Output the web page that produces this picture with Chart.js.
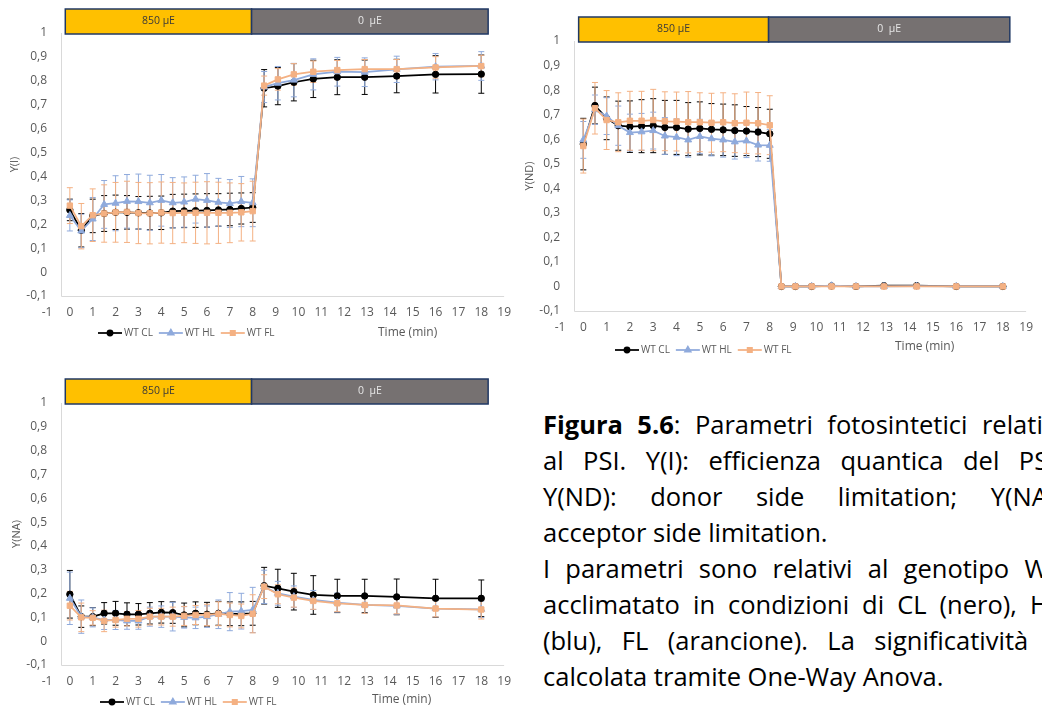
<!DOCTYPE html>
<html lang="it">
<head>
<meta charset="utf-8">
<title>Figura 5.6 - Parametri PSI</title>
<script src="https://cdn.jsdelivr.net/npm/chart.js@4.4.1/dist/chart.umd.min.js"></script>
<style>
  html, body { margin: 0; padding: 0; background: #fff; width: 1042px; height: 711px; overflow: hidden; }
  .panel { position: absolute; }
  #caption { position: absolute; left: 543px; top: 406px; width: 519px; font-family: "Open Sans", sans-serif; font-size: 25.5px; line-height: 36px; color: #000; }
  #caption div { white-space: nowrap; text-align: justify; text-align-last: justify; }
  #caption div.last { text-align-last: left; }
</style>
</head>
<body>
<div class="panel" style="left:0;top:0"><canvas id="chartYI" width="520" height="345"></canvas></div>
<div class="panel" style="left:514px;top:0"><canvas id="chartYND" width="528" height="365"></canvas></div>
<div class="panel" style="left:0;top:360px"><canvas id="chartYNA" width="520" height="351"></canvas></div>

<div id="caption">
  <div><b>Figura 5.6</b>: Parametri fotosintetici relativi</div>
  <div>al PSI. Y(I): efficienza quantica del PSI;</div>
  <div>Y(ND): donor side limitation; Y(NA):</div>
  <div class="last">acceptor side limitation.</div>
  <div>I parametri sono relativi al genotipo WT</div>
  <div>acclimatato in condizioni di CL (nero), HL</div>
  <div>(blu), FL (arancione). La significatività è</div>
  <div class="last">calcolata tramite One-Way Anova.</div>
</div>

<script>
// tempi di misura (min)
const timeMin = [0, 0.5, 1, 1.5, 2, 2.5, 3, 3.5, 4, 4.5, 5, 5.5, 6, 6.5, 7, 7.5, 8, 8.5, 9.1, 9.8, 10.65, 11.7, 12.9, 14.3, 16, 18];
const seriesNames = ['WT CL', 'WT HL', 'WT FL'];
const lightLabels = ['850 µE', '0  µE'];
const lightBounds = [-0.2, 7.95, 18.3];
const xTitle = 'Time (min)';

// Y(I)
const yI_CL = [0.26, 0.175, 0.235, 0.245, 0.25, 0.25, 0.248, 0.247, 0.248, 0.255, 0.256, 0.257, 0.258, 0.26, 0.262, 0.266, 0.27, 0.769, 0.778, 0.794, 0.808, 0.815, 0.815, 0.82, 0.827, 0.828];
const yI_HL = [0.237, 0.172, 0.222, 0.283, 0.288, 0.296, 0.295, 0.29, 0.3, 0.29, 0.293, 0.305, 0.3, 0.292, 0.287, 0.295, 0.29, 0.774, 0.79, 0.803, 0.827, 0.838, 0.836, 0.848, 0.859, 0.862];
const yI_FL = [0.278, 0.192, 0.238, 0.245, 0.25, 0.252, 0.247, 0.246, 0.249, 0.247, 0.248, 0.248, 0.248, 0.248, 0.248, 0.25, 0.255, 0.78, 0.806, 0.827, 0.838, 0.845, 0.849, 0.849, 0.856, 0.862];
const yI_CL_sd = [0.045, 0.07, 0.07, 0.075, 0.072, 0.07, 0.068, 0.07, 0.07, 0.07, 0.07, 0.07, 0.07, 0.068, 0.068, 0.065, 0.062, 0.078, 0.078, 0.078, 0.078, 0.073, 0.072, 0.07, 0.078, 0.08];
const yI_HL_sd = [0.065, 0.07, 0.09, 0.1, 0.115, 0.112, 0.115, 0.115, 0.108, 0.105, 0.105, 0.1, 0.112, 0.1, 0.1, 0.105, 0.1, 0.065, 0.07, 0.07, 0.065, 0.06, 0.06, 0.055, 0.055, 0.06];
const yI_FL_sd = [0.075, 0.095, 0.11, 0.12, 0.125, 0.128, 0.128, 0.128, 0.128, 0.128, 0.125, 0.128, 0.13, 0.128, 0.125, 0.12, 0.125, 0.04, 0.045, 0.045, 0.045, 0.04, 0.04, 0.04, 0.045, 0.045];

// Y(ND)
const yND_CL = [0.58, 0.737, 0.685, 0.655, 0.651, 0.653, 0.655, 0.648, 0.648, 0.641, 0.644, 0.64, 0.638, 0.635, 0.633, 0.629, 0.622, 0, 0, 0, 0.002, 0, 0.003, 0.003, 0, 0];
const yND_HL = [0.597, 0.72, 0.694, 0.655, 0.627, 0.63, 0.635, 0.613, 0.608, 0.597, 0.611, 0.602, 0.597, 0.589, 0.593, 0.576, 0.575, 0, 0, 0, 0.003, 0, 0, 0.001, 0, 0];
const yND_FL = [0.572, 0.726, 0.678, 0.669, 0.675, 0.675, 0.678, 0.673, 0.672, 0.669, 0.669, 0.667, 0.669, 0.665, 0.667, 0.665, 0.657, 0, 0, 0, 0, 0, 0, 0, 0, 0];
const yND_CL_sd = [0.105, 0.075, 0.087, 0.1, 0.105, 0.108, 0.11, 0.11, 0.11, 0.108, 0.108, 0.105, 0.105, 0.105, 0.1, 0.1, 0.1, 0.003, 0.002, 0.002, 0.003, 0.002, 0.003, 0.003, 0.002, 0.002];
const yND_HL_sd = [0.075, 0.06, 0.075, 0.08, 0.075, 0.075, 0.075, 0.075, 0.075, 0.07, 0.07, 0.07, 0.07, 0.07, 0.068, 0.065, 0.065, 0.003, 0.002, 0.002, 0.003, 0.002, 0.002, 0.002, 0.002, 0.002];
const yND_FL_sd = [0.11, 0.105, 0.12, 0.12, 0.12, 0.12, 0.125, 0.12, 0.12, 0.125, 0.12, 0.12, 0.12, 0.12, 0.125, 0.125, 0.12, 0.003, 0.002, 0.002, 0.002, 0.002, 0.002, 0.002, 0.002, 0.002];

// Y(NA)
const yNA_CL = [0.197, 0.103, 0.103, 0.117, 0.117, 0.113, 0.113, 0.117, 0.121, 0.12, 0.11, 0.117, 0.113, 0.117, 0.115, 0.115, 0.117, 0.233, 0.222, 0.208, 0.194, 0.19, 0.19, 0.186, 0.18, 0.18];
const yNA_HL = [0.18, 0.103, 0.1, 0.089, 0.089, 0.085, 0.085, 0.103, 0.103, 0.103, 0.1, 0.098, 0.103, 0.113, 0.124, 0.126, 0.131, 0.228, 0.201, 0.187, 0.173, 0.162, 0.152, 0.148, 0.137, 0.134];
const yNA_FL = [0.149, 0.1, 0.098, 0.085, 0.089, 0.094, 0.094, 0.103, 0.103, 0.103, 0.106, 0.11, 0.11, 0.115, 0.11, 0.106, 0.115, 0.229, 0.197, 0.183, 0.169, 0.159, 0.152, 0.15, 0.137, 0.133];
const yNA_CL_sd = [0.1, 0.045, 0.038, 0.045, 0.05, 0.048, 0.045, 0.045, 0.045, 0.045, 0.05, 0.048, 0.05, 0.05, 0.05, 0.05, 0.05, 0.077, 0.08, 0.077, 0.081, 0.07, 0.07, 0.075, 0.08, 0.077];
const yNA_HL_sd = [0.11, 0.07, 0.04, 0.04, 0.04, 0.035, 0.035, 0.04, 0.045, 0.06, 0.045, 0.045, 0.045, 0.06, 0.08, 0.075, 0.095, 0.07, 0.05, 0.045, 0.04, 0.04, 0.035, 0.035, 0.035, 0.035];
const yNA_FL_sd = [0.06, 0.06, 0.03, 0.045, 0.03, 0.03, 0.035, 0.035, 0.035, 0.04, 0.04, 0.04, 0.045, 0.05, 0.05, 0.05, 0.08, 0.05, 0.04, 0.04, 0.035, 0.035, 0.035, 0.035, 0.035, 0.04];

const COLORS = ['#000000', '#8FAADC', '#F4B183'];
const MARKERS = ['circle', 'triangle', 'rect'];
const RADII = [3.2, 4, 3.8];
const PHASE_FILL = ['#FFC000', '#767171'];
const PHASE_TEXT = ['#3A3A3A', '#E6E6E6'];
const TICK_COLOR = '#595959';

// formato con virgola decimale
function fmtComma(v) {
  const r = Math.round(v * 10) / 10;
  return Number.isInteger(r) ? String(r) : r.toFixed(1).replace('.', ',');
}

// assi, riquadri luce, barre di errore, legenda
const decor = {
  id: 'decor',
  beforeDatasetsDraw(chart) {
    const { ctx, chartArea: a, scales: { x, y } } = chart;
    ctx.save();
    ctx.strokeStyle = '#D9D9D9';
    ctx.lineWidth = 1;
    const ax = Math.round(x.getPixelForValue(-0.38)) + 0.5;
    const ay = Math.round(a.bottom) + 0.5;
    ctx.beginPath();
    ctx.moveTo(ax, a.top);
    ctx.lineTo(ax, ay);
    ctx.lineTo(a.right, ay);
    ctx.stroke();

    chart.data.datasets.forEach(ds => {
      ctx.strokeStyle = ds.borderColor;
      ctx.lineWidth = 1;
      ds.data.forEach((p, j) => {
        const e = ds.errors[j];
        const px = x.getPixelForValue(p.x);
        const y1 = y.getPixelForValue(p.y + e);
        const y2 = y.getPixelForValue(p.y - e);
        ctx.beginPath();
        ctx.moveTo(px, y1); ctx.lineTo(px, y2);
        ctx.moveTo(px - 3, y1); ctx.lineTo(px + 3, y1);
        ctx.moveTo(px - 3, y2); ctx.lineTo(px + 3, y2);
        ctx.stroke();
      });
    });
    ctx.restore();
  },
  afterDraw(chart, args, opts) {
    const { ctx, chartArea: a, scales: { x } } = chart;
    ctx.save();
    // riquadri 850 / 0 µE
    const top = a.top - 24, h = 25;
    lightLabels.forEach((lab, i) => {
      const x0 = x.getPixelForValue(lightBounds[i]);
      const x1 = x.getPixelForValue(lightBounds[i + 1]);
      ctx.fillStyle = PHASE_FILL[i];
      ctx.fillRect(x0, top, x1 - x0, h);
      ctx.strokeStyle = '#203864';
      ctx.lineWidth = 1.5;
      ctx.strokeRect(x0, top, x1 - x0, h);
      ctx.fillStyle = PHASE_TEXT[i];
      ctx.font = '10.5px "Open Sans"';
      ctx.textAlign = 'center';
      ctx.textBaseline = 'middle';
      ctx.fillText(lab, (x0 + x1) / 2, top + h / 2);
    });

    // legenda
    let lx = a.left + opts.legendDx;
    const ly = a.bottom + opts.legendDy;
    ctx.font = '10px "Open Sans"';
    ctx.textAlign = 'left';
    ctx.textBaseline = 'middle';
    chart.data.datasets.forEach(ds => {
      ctx.strokeStyle = ds.borderColor;
      ctx.fillStyle = ds.borderColor;
      ctx.lineWidth = ds.borderWidth;
      ctx.beginPath();
      ctx.moveTo(lx, ly);
      ctx.lineTo(lx + 24, ly);
      ctx.stroke();
      Chart.helpers.drawPoint(ctx, { pointStyle: ds.pointStyle, radius: ds.pointRadius * 0.8, borderWidth: 1 }, lx + 12, ly);
      ctx.fillStyle = TICK_COLOR;
      ctx.fillText(ds.label, lx + 26, ly);
      lx += 26 + ctx.measureText(ds.label).width + 6;
    });

    // titolo asse x
    ctx.font = '12px "Open Sans"';
    ctx.fillStyle = TICK_COLOR;
    ctx.fillText(xTitle, a.left + opts.titleDx, a.bottom + opts.titleDy);
    ctx.restore();
  }
};

function makeChart(id, yTitle, series, sds, lay) {
  const datasets = series.map((vals, i) => ({
    label: seriesNames[i],
    data: timeMin.map((t, j) => ({ x: t, y: vals[j] })),
    errors: sds[i],
    showLine: true,
    borderColor: COLORS[i],
    backgroundColor: COLORS[i],
    borderWidth: 1.75,
    pointStyle: MARKERS[i],
    pointRadius: RADII[i],
    pointBorderWidth: 1,
    order: 3 - i
  }));

  return new Chart(document.getElementById(id), {
    type: 'scatter',
    data: { datasets },
    options: {
      responsive: false,
      animation: false,
      layout: { padding: { left: 0, right: lay.padRight, top: lay.padTop, bottom: 0 } },
      plugins: {
        legend: { display: false },
        tooltip: { enabled: false },
        decor: { legendDx: lay.legendDx, legendDy: lay.legendDy, titleDx: lay.titleDx, titleDy: lay.titleDy }
      },
      scales: {
        x: {
          type: 'linear', min: -1, max: 19,
          grid: { display: false, drawTicks: false }, border: { display: false },
          ticks: { stepSize: 1, padding: 9, autoSkip: false, maxRotation: 0, color: TICK_COLOR,
                   font: { family: 'Open Sans', size: 12 }, callback: v => String(v) },
          afterFit: s => { s.height = lay.xAxisH; }
        },
        y: {
          min: -0.1, max: 1,
          grid: { display: false, drawTicks: false }, border: { display: false },
          ticks: { stepSize: 0.1, padding: 0, color: TICK_COLOR, font: { family: 'Open Sans', size: 12 }, callback: fmtComma },
          title: { display: true, text: yTitle, color: TICK_COLOR, font: { family: 'Open Sans', size: 11 },
                   padding: { top: lay.titlePad, bottom: 0 } },
          afterFit: s => { s.width = lay.yAxisW; }
        }
      }
    },
    plugins: [decor]
  });
}

makeChart('chartYI', 'Y(I)', [yI_CL, yI_HL, yI_FL], [yI_CL_sd, yI_HL_sd, yI_FL_sd],
  { yAxisW: 47, padRight: 14, padTop: 33, xAxisH: 49, titlePad: 8, legendDx: 51, legendDy: 37, titleDx: 331, titleDy: 37 });

makeChart('chartYND', 'Y(ND)', [yND_CL, yND_HL, yND_FL], [yND_CL_sd, yND_HL_sd, yND_FL_sd],
  { yAxisW: 46, padRight: 4, padTop: 41, xAxisH: 54, titlePad: 9, legendDx: 55, legendDy: 39, titleDx: 335, titleDy: 36 });

makeChart('chartYNA', 'Y(NA)', [yNA_CL, yNA_HL, yNA_FL], [yNA_CL_sd, yNA_HL_sd, yNA_FL_sd],
  { yAxisW: 47, padRight: 15, padTop: 43, xAxisH: 46, titlePad: 10, legendDx: 53, legendDy: 37, titleDx: 325, titleDy: 35 });
</script>
</body>
</html>
